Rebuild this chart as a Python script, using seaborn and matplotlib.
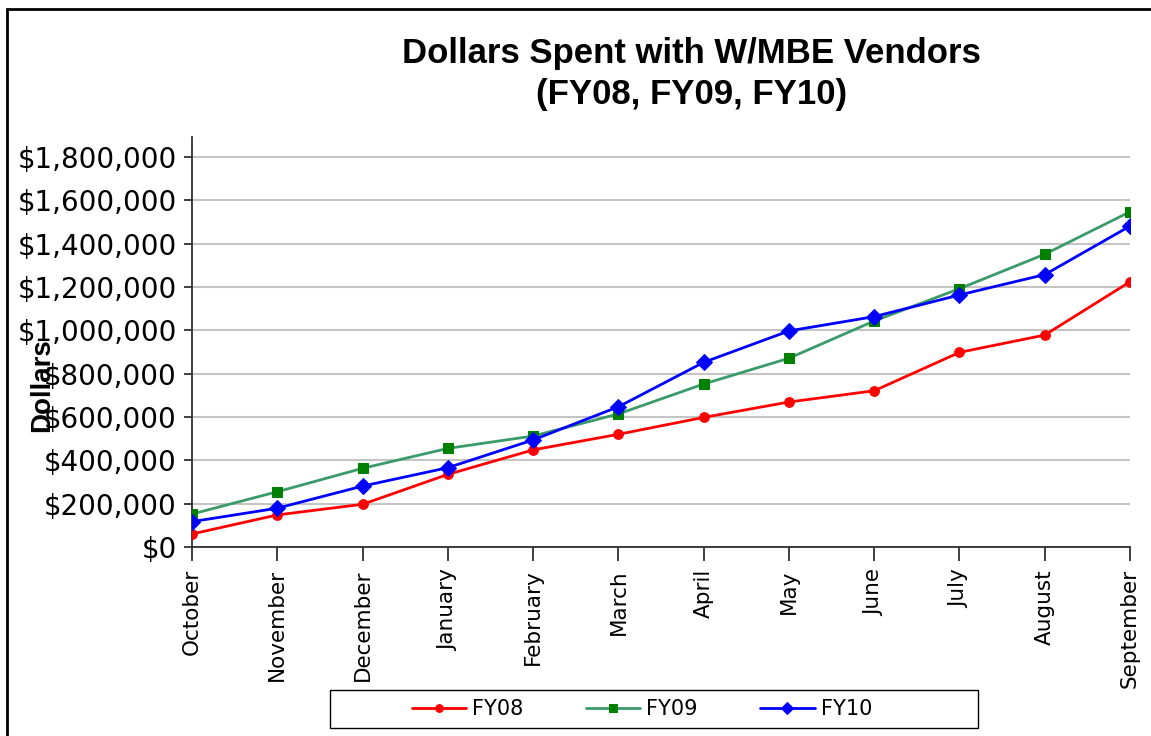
import matplotlib
matplotlib.use('Agg')
import matplotlib.pyplot as plt
from matplotlib.patches import Rectangle
import seaborn as sns
import pandas as pd

months = ['October', 'November', 'December', 'January', 'February', 'March',
          'April', 'May', 'June', 'July', 'August', 'September']
fy08 = [60000, 148000, 197000, 335000, 448000, 520000,
        598000, 669000, 721000, 898000, 978000, 1224000]
fy09 = [152000, 255000, 363000, 455000, 512000, 614000,
        752000, 871000, 1043000, 1192000, 1351000, 1547000]
fy10 = [117000, 179000, 281000, 366000, 494000, 647000,
        852000, 997000, 1063000, 1163000, 1257000, 1481000]
yticks = [0, 200000, 400000, 600000, 800000, 1000000, 1200000, 1400000, 1600000, 1800000]

sns.set_style('white')
plt.rcParams.update({'text.color': 'black', 'axes.labelcolor': 'black',
                     'xtick.color': 'black', 'ytick.color': 'black'})

fig = plt.figure(figsize=(11.51, 7.36), dpi=100)
ax = fig.add_axes([0.1668, 0.2568, 0.815, 0.5571])

styles = [
    ('FY08', fy08, '#ff0000', '#ff0000', 'o', 7),
    ('FY09', fy09, '#3a9a6a', '#008000', 's', 7),
    ('FY10', fy10, '#0000ff', '#0000ff', 'D', 8),
]
for name, vals, lc, mc, mk, ms in styles:
    df = pd.DataFrame({'month': months, 'value': vals})
    sns.lineplot(data=df, x='month', y='value', ax=ax, sort=False, color=lc,
                 lw=2, marker=mk, markersize=ms, markerfacecolor=mc,
                 markeredgecolor=mc, label=name, legend=False, zorder=3)

ax.set_xlim(0, 11)
ax.set_ylim(0, 1892000)
ax.set_yticks(yticks)
ax.set_yticklabels(['${:,}'.format(v) for v in yticks])
ax.set_xticks(range(len(months)))
ax.set_xticklabels(months, rotation=90, va='top', ha='center')
ax.yaxis.grid(True, color='#c4c4c4', lw=1.5)
ax.xaxis.grid(False)

for s in ['top', 'right']:
    ax.spines[s].set_visible(False)
for s in ['left', 'bottom']:
    ax.spines[s].set_color('#303030')
    ax.spines[s].set_linewidth(1.3)

ax.tick_params(axis='y', direction='out', length=6, width=1.3, color='#303030',
               labelsize=20, pad=5, left=True)
ax.tick_params(axis='x', direction='out', length=10, width=1.3, color='#303030',
               labelsize=15.5, pad=6, bottom=True)
for lab in ax.get_xticklabels() + ax.get_yticklabels():
    lab.set_family('DejaVu Sans')

# the reference has the axis title sitting over the tick labels
ax.set_xlabel('')
ax.set_ylabel('Dollars', fontsize=20, fontweight='bold', family='Liberation Sans')
ax.yaxis.set_label_coords(-0.146, 0.395)

fig.text(0.601, 0.8995, 'Dollars Spent with W/MBE Vendors\n(FY08, FY09, FY10)',
         ha='center', va='center', fontsize=25, fontweight='bold',
         family='Liberation Sans', linespacing=1.3)

# legend box drawn separately so it can be wider than its entries
fig.patches.append(Rectangle((330 / 1151, 8 / 736), 648 / 1151, 38 / 736,
                             transform=fig.transFigure, facecolor='white',
                             edgecolor='black', lw=1.0, zorder=2))
handles, labels = ax.get_legend_handles_labels()
leg = fig.legend(handles, labels, loc='center', ncol=3,
                 bbox_to_anchor=(642 / 1151, 27 / 736),
                 frameon=False, prop={'family': 'DejaVu Sans', 'size': 15},
                 handlelength=2.6, handletextpad=0.3, columnspacing=3.0,
                 markerscale=0.8)

fig.patches.append(Rectangle((7 / 1151, -0.05), 1.1, 1.05 - 9 / 736, transform=fig.transFigure,
                             fill=False, edgecolor='black', lw=2, clip_on=False))

fig.savefig('out.png', dpi=100)
